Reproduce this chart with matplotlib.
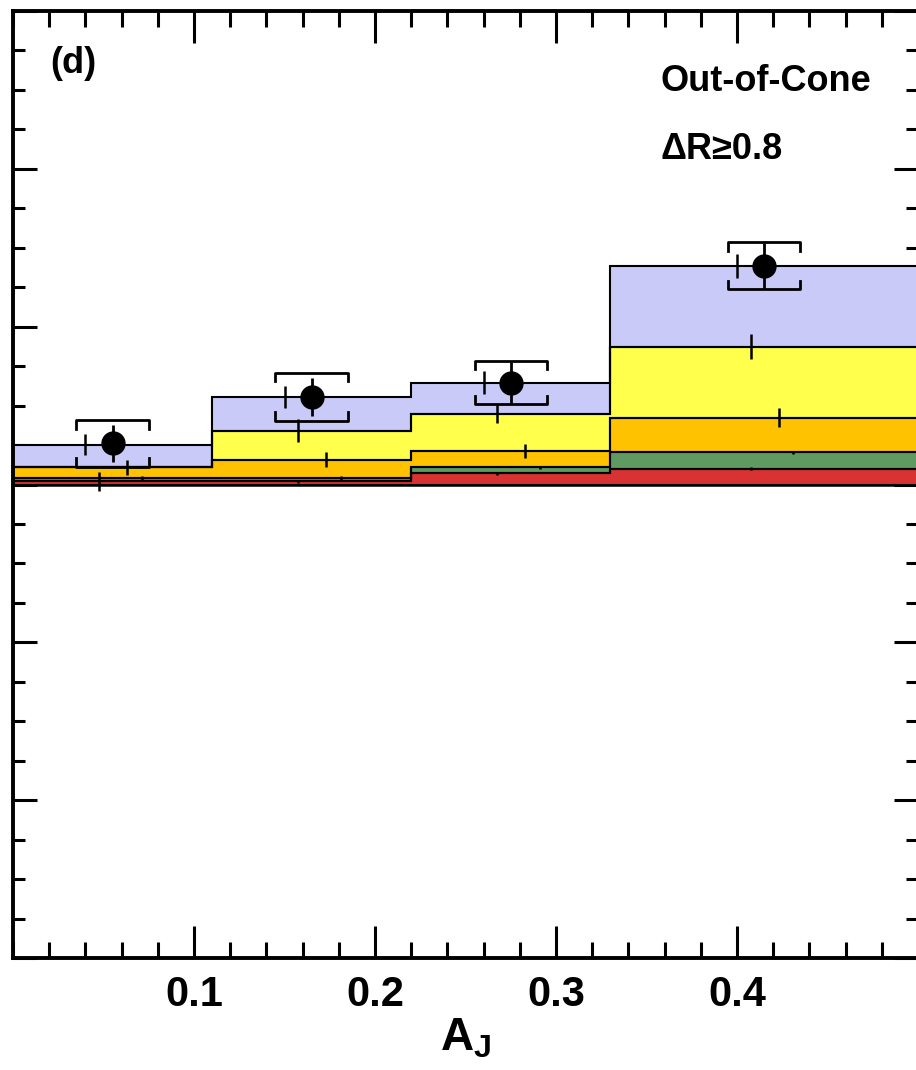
import matplotlib
matplotlib.use('Agg')
import matplotlib.pyplot as plt
import numpy as np
from matplotlib.ticker import MultipleLocator, FixedLocator, NullFormatter

plt.rcParams['font.family'] = ['Liberation Sans', 'DejaVu Sans']
plt.rcParams['font.weight'] = 'bold'
plt.rcParams['mathtext.fontset'] = 'custom'
plt.rcParams['mathtext.rm'] = 'Liberation Sans'
plt.rcParams['mathtext.bf'] = 'Liberation Sans:bold'

# ---------------- data ----------------
bin_edges = [0.0, 0.11, 0.22, 0.33, 0.5]
bin_centers = [0.055, 0.165, 0.275, 0.415]

# stacked components (bottom -> top)
red_vals = [0.20, 0.20, 0.70, 1.01]
green_vals = [0.20, 0.20, 0.38, 1.02]
orange_vals = [0.68, 1.18, 1.07, 2.21]
yellow_vals = [0.0, 1.84, 2.34, 4.49]
lavender_vals = [1.45, 2.15, 1.97, 5.13]

red_err = [0.60, 0.10, 0.12, 0.12]
green_err = [0.12, 0.15, 0.12, 0.12]
orange_err = [0.47, 0.47, 0.44, 0.60]
yellow_err = [0.0, 0.73, 0.60, 0.79]
lavender_err = [0.66, 0.70, 0.73, 0.76]

# data points
data_x = [0.055, 0.165, 0.275, 0.415]
data_y = [2.60, 5.57, 6.46, 13.86]
stat_err = [1.20, 1.20, 1.30, 1.45]
sys_err = [1.46, 1.52, 1.39, 1.50]

xtick_vals = [0.1, 0.2, 0.3, 0.4]
xtick_labels = ['0.1', '0.2', '0.3', '0.4']

# ---------------- plot ----------------
fig = plt.figure(figsize=(9.16, 10.70), dpi=100)
ax = fig.add_axes([13 / 916, 112 / 1070, 905 / 916, 947 / 1070])

components = [
    (red_vals, red_err, '#d83232', -0.0075),
    (green_vals, green_err, '#5f9a60', 0.016),
    (orange_vals, orange_err, '#ffc200', 0.008),
    (yellow_vals, yellow_err, '#ffff4c', -0.0075),
    (lavender_vals, lavender_err, '#cacaf8', -0.015),
]

base = np.zeros(len(bin_centers))
tops = []
for vals, errs, col, off in components:
    top = base + np.array(vals)
    ax.stairs(top, bin_edges, baseline=base.copy(), fill=True,
              facecolor=col, edgecolor='none', zorder=2)
    ax.stairs(top, bin_edges, baseline=base.copy(), fill=False,
              edgecolor='black', linewidth=1.5, zorder=3)
    tops.append((top.copy(), errs, off))
    base = top

for top, errs, off in tops:
    for c, t, e in zip(bin_centers, top, errs):
        if e > 0:
            ax.plot([c + off, c + off], [t - e, t + e], color='black',
                    linewidth=1.8, zorder=4, solid_capstyle='butt')

# data points with stat error bars
ax.errorbar(data_x, data_y, yerr=stat_err, fmt='o', color='black',
            markersize=16.5, elinewidth=2.0, capsize=0, zorder=6)

# systematic brackets
bw = 0.02
bh = 0.55
for x, y, s in zip(data_x, data_y, sys_err):
    ax.plot([x - bw, x - bw, x + bw, x + bw],
            [y + s - bh, y + s, y + s, y + s - bh],
            color='black', linewidth=2.0, zorder=5)
    ax.plot([x - bw, x - bw, x + bw, x + bw],
            [y - s + bh, y - s, y - s, y - s + bh],
            color='black', linewidth=2.0, zorder=5)

ax.axhline(0, color='black', linewidth=1.8, zorder=3)

ax.set_xlim(0, 0.5)
ax.set_ylim(-30, 30)

ax.xaxis.set_major_locator(FixedLocator(xtick_vals))
ax.set_xticklabels(xtick_labels)
ax.xaxis.set_minor_locator(MultipleLocator(0.02))
ax.yaxis.set_major_locator(MultipleLocator(10))
ax.yaxis.set_minor_locator(MultipleLocator(2.5))
ax.yaxis.set_major_formatter(NullFormatter())

ax.tick_params(axis='x', which='major', direction='in', length=23, width=2.2,
               top=True, bottom=True, labelsize=30, pad=12)
ax.tick_params(axis='x', which='minor', direction='in', length=11.5, width=2.2,
               top=True, bottom=True)
ax.tick_params(axis='y', which='major', direction='in', length=17, width=2.2,
               left=True, right=True, labelleft=False)
ax.tick_params(axis='y', which='minor', direction='in', length=8.5, width=2.2,
               left=True, right=True)
for lab in ax.get_xticklabels():
    lab.set_fontweight('bold')

for sp in ax.spines.values():
    sp.set_linewidth(2.8)

ax.set_xlabel(r'$\mathbf{A}_\mathbf{J}$', fontsize=33, labelpad=1)

ax.text(0.0204, 26.1, '(d)', fontsize=26, fontweight='bold', va='baseline', ha='left')
ax.text(0.3575, 24.9, 'Out-of-Cone', fontsize=26, fontweight='bold', va='baseline', ha='left')
ax.text(0.3575, 20.6, 'ΔR≥0.8', fontsize=26, fontweight='bold', va='baseline', ha='left')

fig.savefig('out.png', dpi=100)
